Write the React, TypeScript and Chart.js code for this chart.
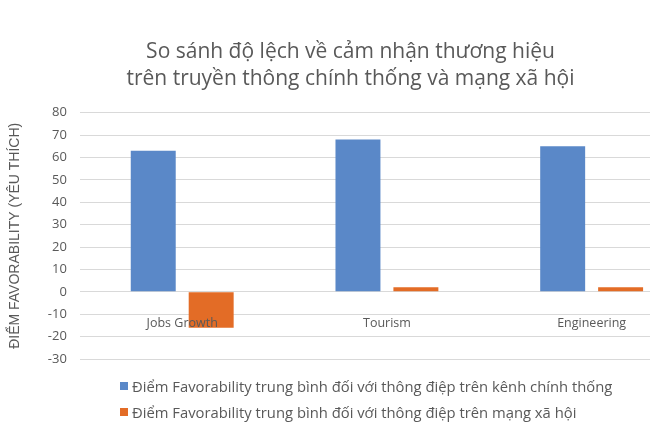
import { useEffect, useRef } from 'react';
import Chart from 'chart.js/auto';

const categories = ['Jobs Growth', 'Tourism', 'Engineering'];
const officialScores = [63, 68, 65];
const socialScores = [-16, 2, 2];
const seriesLabels = [
  'Điểm Favorability trung bình đối với thông điệp trên kênh chính thống',
  'Điểm Favorability trung bình đối với thông điệp trên mạng xã hội',
];
const titleLines = [
  'So sánh độ lệch về cảm nhận thương hiệu',
  'trên truyền thông chính thống và mạng xã hội',
];
const yAxisTitle = 'ĐIỂM FAVORABILITY (YÊU THÍCH)';

const BLUE = '#5a88c8';
const ORANGE = '#e36c26';
const TEXT = '#595959';

const App = () => {
  const chartRef = useRef<HTMLCanvasElement | null>(null);
  const chartInstance = useRef<Chart | null>(null);

  useEffect(() => {
    if (!chartRef.current) return;
    if (chartInstance.current) chartInstance.current.destroy();

    chartInstance.current = new Chart(chartRef.current, {
      type: 'bar',
      data: {
        labels: categories,
        datasets: [
          { label: seriesLabels[0], data: officialScores, backgroundColor: BLUE },
          { label: seriesLabels[1], data: socialScores, backgroundColor: ORANGE },
        ],
      },
      options: {
        animation: false,
        responsive: false,
        maintainAspectRatio: false,
        categoryPercentage: 0.566,
        barPercentage: 0.776,
        layout: { padding: { left: 7, right: 6, bottom: 74 } },
        plugins: {
          legend: { display: false },
          tooltip: { enabled: false },
          title: {
            display: true,
            text: titleLines,
            color: TEXT,
            font: { family: 'Open Sans', size: 21, weight: 'normal', lineHeight: 1.3 },
            padding: { top: 38, bottom: 20 },
          },
        },
        scales: {
          x: {
            position: { y: 0 },
            grid: { display: false },
            border: { display: false },
            ticks: {
              z: 1, // labels sit on top of the bars, as in the original
              color: TEXT,
              padding: 16,
              font: { family: 'Open Sans', size: 12.5 },
            },
          },
          y: {
            min: -30,
            max: 80,
            ticks: {
              stepSize: 10,
              color: TEXT,
              padding: 13,
              font: { family: 'Open Sans', size: 13 },
            },
            grid: { color: '#d9d9d9', drawTicks: false },
            border: { display: false },
            title: {
              display: true,
              text: yAxisTitle,
              color: TEXT,
              font: { family: 'Liberation Sans', size: 14 },
              padding: { top: 0, bottom: 11 },
            },
          },
        },
      },
    });

    return () => {
      if (chartInstance.current) {
        chartInstance.current.destroy();
        chartInstance.current = null;
      }
    };
  }, []);

  const colors = [BLUE, ORANGE];

  return (
    <div
      style={{
        position: 'fixed',
        left: 0,
        top: 0,
        width: 650,
        height: 433,
        overflow: 'hidden',
        background: '#fff',
      }}
    >
      <canvas
        ref={chartRef}
        width={700}
        height={433}
        style={{ position: 'absolute', left: 0, top: 0, width: 700, height: 433 }}
      ></canvas>
      {/* Legend, left aligned like the Excel original */}
      <div
        style={{
          position: 'absolute',
          left: 120,
          top: 373,
          fontFamily: 'Open Sans',
          fontSize: 14.8,
          color: TEXT,
          lineHeight: '26px',
          whiteSpace: 'nowrap',
        }}
      >
        {seriesLabels.map((label, i) => (
          <div key={label} style={{ display: 'flex', alignItems: 'center' }}>
            <span
              style={{
                display: 'inline-block',
                width: 8,
                height: 8,
                background: colors[i],
                marginRight: 4,
              }}
            />
            {label}
          </div>
        ))}
      </div>
    </div>
  );
};

export default App;
